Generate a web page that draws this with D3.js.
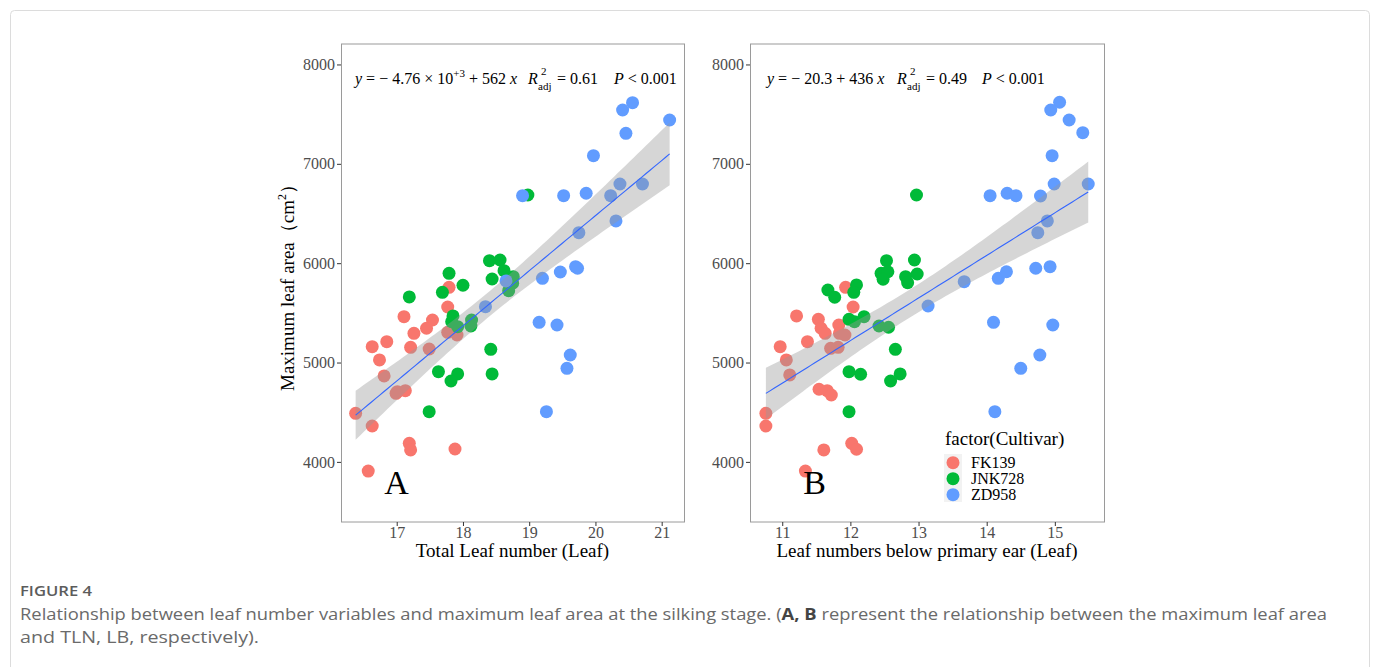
<!DOCTYPE html>
<html><head><meta charset="utf-8">
<script src="https://cdn.jsdelivr.net/npm/d3@7"></script>
<style>
body{margin:0;background:#fff;}
svg{display:block;}
</style></head><body>
<svg id="chart" width="1373" height="667"></svg>
<script>
// ---------------- DATA ----------------
const cultivars = ["FK139", "JNK728", "ZD958"];
const cultivarColors = ["#F8766D", "#00BA38", "#619CFF"];
const yTickValues = [4000, 5000, 6000, 7000, 8000];
const xTickValuesA = [17, 18, 19, 20, 21];
const xTickValuesB = [11, 12, 13, 14, 15];

// Panel A: Total leaf number (x) vs maximum leaf area (y)
const panelA_FK139 = [
  [17.79,5757],[17.77,5559],[17.11,5462],[17.54,5428],[17.45,5345],[17.77,5304],
  [17.91,5277],[17.26,5294],[16.85,5210],[16.63,5160],[17.21,5153],[17.49,5136],
  [16.74,5026],[16.81,4865],[17.01,4707],[17.13,4717],[16.99,4690],[16.38,4489],
  [16.63,4361],[17.19,4187],[17.21,4120],[17.88,4130],[16.57,3908]
];
const panelA_JNK728 = [
  [18.98,6686],[18.40,6025],[18.56,6032],[18.62,5925],[18.76,5864],[18.75,5798],
  [18.69,5723],[18.44,5841],[17.79,5898],[18.00,5778],[17.69,5707],[17.19,5660],
  [17.85,5469],[17.83,5411],[17.92,5361],[18.13,5428],[18.12,5368],[18.42,5133],
  [17.63,4908],[17.92,4885],[17.82,4814],[18.44,4885],[17.49,4505]
];
const panelA_ZD958 = [
  [20.56,7615],[20.41,7542],[21.12,7441],[20.46,7307],[19.97,7082],[18.90,6679],
  [19.52,6679],[19.86,6704],[20.23,6679],[20.37,6797],[20.71,6797],[20.31,6425],
  [19.75,6307],[18.65,5821],[18.34,5562],[19.20,5848],[19.47,5911],[19.70,5965],
  [19.73,5949],[19.15,5405],[19.42,5378],[19.62,5076],[19.57,4942],[19.26,4505]
];

// Panel B: Leaf numbers below primary ear (x) vs maximum leaf area (y)
const panelB_FK139 = [
  [11.93,5757],[12.04,5559],[11.21,5469],[11.53,5435],[11.83,5378],[11.57,5345],
  [11.63,5294],[11.84,5294],[11.92,5277],[11.37,5210],[10.97,5160],[11.71,5143],
  [11.82,5153],[11.06,5026],[11.11,4875],[11.54,4731],[11.66,4717],[11.72,4673],
  [10.76,4489],[10.76,4361],[12.02,4187],[12.09,4127],[11.61,4120],[11.34,3908]
];
const panelB_JNK728 = [
  [12.97,6686],[12.53,6025],[12.94,6032],[12.45,5898],[12.55,5914],[12.48,5838],
  [12.81,5864],[12.98,5891],[12.84,5804],[12.09,5781],[12.05,5707],[11.67,5730],
  [11.77,5657],[11.98,5435],[12.06,5411],[12.20,5462],[12.42,5368],[12.56,5355],
  [12.66,5133],[11.98,4908],[12.15,4882],[12.59,4814],[12.73,4885],[11.98,4505]
];
const panelB_ZD958 = [
  [15.07,7620],[14.94,7542],[15.21,7441],[15.41,7314],[14.96,7082],[14.05,6679],
  [14.30,6704],[14.43,6679],[14.79,6676],[14.99,6797],[15.49,6797],[14.89,6425],
  [14.75,6307],[13.67,5814],[13.14,5569],[14.17,5848],[14.29,5914],[14.72,5949],
  [14.93,5965],[14.10,5405],[14.97,5378],[14.78,5076],[14.50,4942],[14.12,4505]
];

const panelLabels = ["A", "B"];
const xTitles = ["Total Leaf number (Leaf)", "Leaf numbers below primary ear (Leaf)"];
const eqIntercepts = ["4.76 × 10", "20.3"];
const eqSlopes = ["562", "436"];
const eqR2 = ["0.61", "0.49"];
const eqP = "0.001";

// ---------------- DRAW ----------------
const svg = d3.select("#chart");
const serif = "'Liberation Serif','Times New Roman',serif";

// page card border
svg.append("rect").attr("x", 10.5).attr("y", 10.5).attr("width", 1359).attr("height", 700)
  .attr("rx", 4).attr("fill", "#fff").attr("stroke", "#dcdcdc");

const y = d3.scaleLinear().domain([3395, 8206]).range([522, 44]);

const panels = [
  {x: d3.scaleLinear().domain([16.159, 21.352]).range([341, 685]), ticks: xTickValuesA,
   groups: [panelA_FK139, panelA_JNK728, panelA_ZD958]},
  {x: d3.scaleLinear().domain([10.527, 15.736]).range([750, 1105]), ticks: xTickValuesB,
   groups: [panelB_FK139, panelB_JNK728, panelB_ZD958]}
];

function fitLm(pts) {
  const n = pts.length;
  const mx = d3.mean(pts, d => d[0]), my = d3.mean(pts, d => d[1]);
  let sxx = 0, sxy = 0;
  pts.forEach(d => { sxx += (d[0]-mx)**2; sxy += (d[0]-mx)*(d[1]-my); });
  const b = sxy / sxx, a = my - b * mx;
  let sse = 0;
  pts.forEach(d => { sse += (d[1] - a - b*d[0])**2; });
  const s = Math.sqrt(sse / (n - 2));
  return {a, b, s, n, mx, sxx};
}

panels.forEach((p, i) => {
  const x = p.x;
  const [x0, x1] = x.range();
  const g = svg.append("g");

  // points
  p.groups.forEach((pts, gi) => {
    g.append("g").selectAll("circle").data(pts).join("circle")
      .attr("cx", d => x(d[0])).attr("cy", d => y(d[1])).attr("r", 6.5)
      .attr("fill", cultivarColors[gi]);
  });

  // regression + confidence band
  const all = p.groups.flat();
  const fit = fitLm(all);
  const tq = 1.996;
  const xmin = d3.min(all, d => d[0]), xmax = d3.max(all, d => d[0]);
  const xs = d3.range(80).map(k => xmin + (xmax - xmin) * k / 79);
  const band = xs.map(xx => {
    const yy = fit.a + fit.b * xx;
    const se = fit.s * Math.sqrt(1/fit.n + (xx - fit.mx)**2 / fit.sxx);
    return {xx, yy, lo: yy - tq*se, hi: yy + tq*se};
  });
  g.append("path").datum(band)
    .attr("d", d3.area().x(d => x(d.xx)).y0(d => y(d.lo)).y1(d => y(d.hi)))
    .attr("fill", "#999999").attr("fill-opacity", 0.4);
  g.append("path").datum(band)
    .attr("d", d3.line().x(d => x(d.xx)).y(d => y(d.yy)))
    .attr("fill", "none").attr("stroke", "#3366FF").attr("stroke-width", 1.1);

  // border
  g.append("rect").attr("x", x0 + 0.5).attr("y", 44).attr("width", x1 - x0 - 1).attr("height", 478)
    .attr("fill", "none").attr("stroke", "#9a9a9a").attr("stroke-width", 1);

  // axes
  const ax = g.append("g").attr("transform", `translate(0,522)`)
    .call(d3.axisBottom(x).tickValues(p.ticks).tickSize(4).tickPadding(1).tickFormat(d3.format("d")));
  const ay = g.append("g").attr("transform", `translate(${x0},0)`)
    .call(d3.axisLeft(y).tickValues(yTickValues).tickSize(4).tickPadding(2).tickFormat(d3.format("d")));
  [ax, ay].forEach(a => {
    a.select(".domain").remove();
    a.selectAll(".tick line").attr("stroke", "#333");
    a.selectAll(".tick text").attr("fill", "#4d4d4d").attr("font-family", serif).attr("font-size", 16);
  });

  // x title
  g.append("text").attr("x", (x0 + x1) / 2 - 0.5).attr("y", 557).attr("text-anchor", "middle")
    .attr("font-family", serif).attr("font-size", 19).attr("fill", "#000").text(xTitles[i]);

  // panel letter
  g.append("text").attr("x", i === 0 ? 396.5 : 814.5).attr("y", 494).attr("text-anchor", "middle")
    .attr("font-family", serif).attr("font-size", 34).attr("fill", "#000").text(panelLabels[i]);
});

// equations
function equation(xStart, rX, pX, i) {
  const g = svg.append("g").attr("font-family", serif).attr("fill", "#000");
  const t = g.append("text").attr("x", xStart).attr("y", 84).attr("font-size", 16);
  t.append("tspan").attr("font-style", "italic").text("y");
  t.append("tspan").text(" = − " + eqIntercepts[i]);
  if (i === 0) {
    t.append("tspan").attr("font-size", 11).attr("dy", -7).text("+3");
    t.append("tspan").attr("dy", 7).text(" + " + eqSlopes[i] + " ");
  } else {
    t.append("tspan").text(" + " + eqSlopes[i] + " ");
  }
  t.append("tspan").attr("font-style", "italic").text("x");

  g.append("text").attr("x", rX).attr("y", 84).attr("font-size", 16).attr("font-style", "italic").text("R");
  g.append("text").attr("x", rX + 13).attr("y", 75).attr("font-size", 11).text("2");
  g.append("text").attr("x", rX + 10).attr("y", 90).attr("font-size", 11).text("adj");
  g.append("text").attr("x", rX + 29).attr("y", 84).attr("font-size", 16).text("= " + eqR2[i]);

  const pt = g.append("text").attr("x", pX).attr("y", 84).attr("font-size", 16);
  pt.append("tspan").attr("font-style", "italic").text("P");
  pt.append("tspan").text(" < " + eqP);
}
equation(355, 528, 614, 0);
equation(767, 897, 982, 1);

// y-axis title
svg.append("text").attr("transform", "translate(294,283) rotate(-90)")
  .attr("text-anchor", "middle").attr("font-family", serif).attr("font-size", 19).attr("fill", "#000")
  .call(t => {
    t.append("tspan").text("Maximum leaf area（cm");
    t.append("tspan").attr("font-size", 12).attr("dy", -8).text("2");
    t.append("tspan").attr("dy", 8).text("）");
  });

// legend
const lg = svg.append("g").attr("font-family", serif);
lg.append("text").attr("x", 945).attr("y", 445).attr("font-size", 19).text("factor(Cultivar)");
lg.append("rect").attr("x", 944).attr("y", 454).attr("width", 18).attr("height", 48).attr("fill", "#f2f2f2");
cultivars.forEach((c, k) => {
  const cy = 462.7 + k * 16;
  lg.append("circle").attr("cx", 953).attr("cy", cy).attr("r", 6.5).attr("fill", cultivarColors[k]);
  lg.append("text").attr("x", 971).attr("y", cy + 5.5).attr("font-size", 16).text(c);
});

// caption
const cap = svg.append("g").attr("font-family", "'Open Sans','Noto Sans',sans-serif");
cap.append("text").attr("x", 20).attr("y", 596).attr("font-size", 14).attr("font-weight", 600)
  .attr("fill", "#5c5c5c").attr("textLength", 72).attr("lengthAdjust", "spacingAndGlyphs").text("FIGURE 4");
const l1 = cap.append("text").attr("x", 20).attr("y", 620).attr("font-size", 16.5).attr("fill", "#6a6a6a")
  .attr("textLength", 1307).attr("lengthAdjust", "spacingAndGlyphs");
l1.append("tspan").text("Relationship between leaf number variables and maximum leaf area at the silking stage. (");
l1.append("tspan").attr("font-weight", 700).attr("fill", "#444").text("A, B");
l1.append("tspan").text(" represent the relationship between the maximum leaf area");
cap.append("text").attr("x", 20).attr("y", 643).attr("font-size", 16.5).attr("fill", "#6a6a6a")
  .attr("textLength", 239).attr("lengthAdjust", "spacingAndGlyphs")
  .text("and TLN, LB, respectively).");
</script>
</body></html>
